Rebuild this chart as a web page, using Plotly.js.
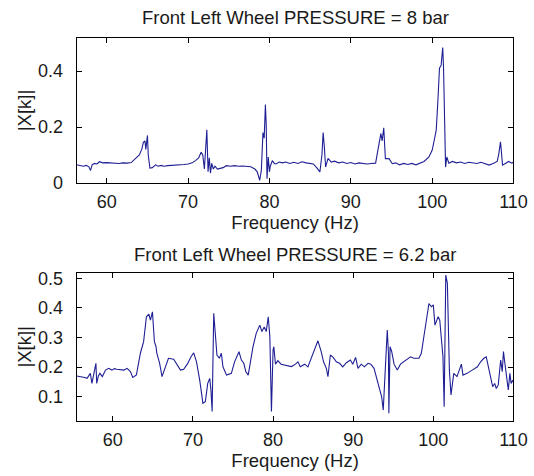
<!DOCTYPE html>
<html>
<head>
<meta charset="utf-8">
<script src="https://cdn.plot.ly/plotly-3.0.1.min.js"></script>
<style>html,body{margin:0;padding:0;background:#fff;}#chart{width:534px;height:476px;}</style>
</head>
<body>
<div id="chart"></div>
<script>
// Front Left Wheel PRESSURE = 8 bar
const freq8 = [56.3,56.7,57.1,57.5,57.8,58.0,58.2,58.5,58.8,59.1,59.5,60.0,60.5,61.0,61.5,62.0,62.5,63.0,63.5,64.0,64.3,64.5,64.7,64.8,65.0,65.1,65.3,65.6,66.0,66.3,66.7,67.0,67.5,68.0,68.5,69.0,69.5,70.0,70.5,70.9,71.3,71.6,71.8,72.0,72.15,72.3,72.45,72.6,72.75,72.9,73.1,73.3,73.6,73.9,74.3,74.7,75.2,75.7,76.2,76.7,77.2,77.7,78.2,78.5,78.8,79.0,79.2,79.35,79.5,79.6,79.7,79.85,80.0,80.1,80.35,80.6,80.8,81.2,81.6,82.0,82.5,83.0,83.5,84.0,84.5,85.0,85.4,85.8,86.2,86.45,86.6,86.75,86.9,87.2,87.6,88.0,88.5,89.0,89.5,90.0,90.5,91.0,91.5,92.0,92.5,93.05,93.4,93.7,93.85,94.05,94.25,94.7,95.1,95.5,96.0,96.5,97.0,97.5,98.0,98.5,99.0,99.6,100.0,100.3,100.5,100.7,100.9,101.1,101.3,101.4,101.5,101.65,101.8,102.05,102.5,103.0,103.5,104.0,104.5,105.0,105.5,106.0,106.5,107.0,107.5,108.0,108.2,108.4,108.5,108.65,109.0,109.4,109.8,110.0];
const mag8 = [0.065,0.062,0.06,0.063,0.058,0.045,0.065,0.07,0.068,0.076,0.072,0.073,0.072,0.072,0.07,0.072,0.071,0.073,0.085,0.1,0.12,0.145,0.15,0.12,0.17,0.1,0.053,0.055,0.065,0.06,0.063,0.06,0.062,0.063,0.062,0.064,0.066,0.068,0.072,0.08,0.09,0.11,0.1,0.05,0.12,0.19,0.04,0.09,0.035,0.07,0.05,0.06,0.05,0.052,0.055,0.062,0.06,0.062,0.06,0.061,0.06,0.058,0.05,0.04,0.01,0.045,0.18,0.16,0.28,0.21,0.015,0.093,0.04,0.06,0.08,0.07,0.068,0.075,0.072,0.075,0.07,0.074,0.07,0.076,0.072,0.07,0.068,0.055,0.04,0.1,0.18,0.128,0.057,0.088,0.075,0.078,0.072,0.075,0.07,0.073,0.068,0.072,0.07,0.068,0.07,0.071,0.129,0.177,0.15,0.197,0.087,0.087,0.069,0.072,0.065,0.07,0.066,0.07,0.065,0.072,0.077,0.093,0.117,0.159,0.189,0.29,0.41,0.42,0.484,0.41,0.254,0.057,0.093,0.071,0.077,0.072,0.075,0.07,0.074,0.072,0.07,0.074,0.068,0.064,0.07,0.077,0.105,0.147,0.117,0.064,0.07,0.077,0.071,0.075];

// Front Left Wheel PRESSURE = 6.2 bar
const freq62 = [55.5,55.9,56.2,56.5,56.8,57.0,57.2,57.4,57.7,57.9,58.0,58.2,58.4,58.7,59.1,59.5,59.9,60.2,60.5,61.0,61.4,61.8,62.2,62.5,62.95,63.45,63.85,64.2,64.5,64.7,64.95,65.2,65.4,65.5,65.85,66.15,66.4,66.95,67.6,68.0,68.45,68.85,69.3,69.8,70.1,70.45,70.85,71.25,71.55,71.85,72.1,72.25,72.4,72.6,72.8,73.0,73.3,73.55,73.75,74.2,74.8,75.2,75.75,76.05,76.35,76.6,76.9,77.15,77.5,77.9,78.35,78.6,78.9,79.15,79.4,79.6,79.7,79.8,80.0,80.1,80.3,80.6,81.0,81.65,82.3,82.8,83.1,83.4,83.95,84.35,84.8,85.2,85.6,86.0,86.3,86.65,86.85,87.15,87.5,87.9,88.3,88.7,89.15,89.65,89.95,90.3,90.6,91.0,91.4,91.85,92.2,92.6,93.0,93.3,93.55,93.75,93.95,94.15,94.25,94.4,94.45,94.6,94.8,95.1,95.5,95.9,96.3,96.75,97.15,97.55,98.2,98.5,98.8,99.15,99.45,99.75,100.0,100.2,100.4,100.6,100.8,100.95,101.2,101.35,101.5,101.55,101.75,101.85,102.0,102.2,102.35,102.55,102.95,103.25,103.5,103.7,104.2,104.85,105.5,105.9,106.3,106.6,106.85,107.15,107.4,107.65,107.85,108.1,108.25,108.4,108.6,108.75,108.9,109.1,109.35,109.55,109.7,109.9,110.0];
const mag62 = [0.17,0.168,0.168,0.165,0.162,0.17,0.179,0.145,0.19,0.213,0.145,0.17,0.179,0.168,0.19,0.196,0.19,0.195,0.193,0.19,0.19,0.196,0.185,0.165,0.174,0.247,0.286,0.37,0.379,0.359,0.387,0.286,0.269,0.247,0.213,0.168,0.19,0.23,0.227,0.21,0.19,0.193,0.21,0.237,0.248,0.218,0.156,0.078,0.083,0.145,0.162,0.123,0.05,0.382,0.303,0.241,0.23,0.247,0.201,0.173,0.179,0.218,0.252,0.224,0.213,0.185,0.173,0.21,0.269,0.314,0.342,0.32,0.336,0.32,0.37,0.303,0.19,0.05,0.258,0.269,0.21,0.222,0.21,0.207,0.202,0.21,0.218,0.201,0.21,0.201,0.233,0.267,0.289,0.253,0.218,0.196,0.168,0.241,0.233,0.218,0.213,0.201,0.215,0.224,0.21,0.233,0.196,0.21,0.201,0.213,0.21,0.196,0.156,0.134,0.1,0.055,0.156,0.258,0.325,0.247,0.044,0.269,0.253,0.21,0.19,0.21,0.218,0.224,0.235,0.23,0.23,0.247,0.303,0.359,0.415,0.404,0.41,0.342,0.359,0.37,0.359,0.314,0.235,0.066,0.438,0.511,0.483,0.359,0.19,0.106,0.145,0.179,0.168,0.19,0.21,0.173,0.179,0.19,0.201,0.218,0.23,0.235,0.201,0.168,0.134,0.145,0.128,0.14,0.196,0.224,0.185,0.253,0.218,0.179,0.123,0.179,0.145,0.156,0.15];

const xTicks = [60,70,80,90,100,110];
const yTicks8 = [0,0.2,0.4];
const yTicks62 = [0.1,0.2,0.3,0.4,0.5];
const titles = ['Front Left Wheel PRESSURE = 8 bar','Front Left Wheel PRESSURE = 6.2 bar'];
const xLabel = 'Frequency (Hz)';
const yLabel = '|X[k]|';

const FONT = 'Liberation Sans, Arial, sans-serif';
const TXT = '#1a1a1a';
const LINE = '#1f1f95';

const traces = [
  {x: freq8, y: mag8, type: 'scatter', mode: 'lines', line: {color: LINE, width: 1.1}, xaxis: 'x', yaxis: 'y', hoverinfo: 'skip'},
  {x: freq62, y: mag62, type: 'scatter', mode: 'lines', line: {color: LINE, width: 1.1}, xaxis: 'x2', yaxis: 'y2', hoverinfo: 'skip'}
];

function xa(domain, range, anchor) {
  return {domain: domain, range: range, anchor: anchor, tickvals: xTicks, ticktext: xTicks.map(String),
    ticks: 'inside', ticklen: 5, tickcolor: '#000', showline: true, linecolor: '#000', linewidth: 1, mirror: 'ticks',
    showgrid: false, zeroline: false, tickfont: {family: FONT, size: 18, color: TXT}, ticklabelstandoff: 2,
    title: {text: xLabel, font: {family: FONT, size: 18.5, color: TXT}, standoff: 4}, automargin: false};
}
function ya(domain, range, ticks, anchor) {
  return {domain: domain, range: range, anchor: anchor, tickvals: ticks, ticktext: ticks.map(String),
    ticks: 'inside', ticklen: 5, tickcolor: '#000', showline: true, linecolor: '#000', linewidth: 1, mirror: 'ticks',
    showgrid: false, zeroline: false, tickfont: {family: FONT, size: 18, color: TXT}, ticklabelstandoff: 9,
    title: {text: yLabel, font: {family: FONT, size: 18.5, color: TXT}, standoff: 1}, automargin: false};
}

const layout = {
  width: 534, height: 476,
  margin: {l: 0, r: 0, t: 0, b: 0},
  paper_bgcolor: '#fff', plot_bgcolor: '#fff',
  showlegend: false,
  xaxis: xa([0.1436, 0.9616], [56.3, 110], 'y'),
  yaxis: ya([0.6155, 0.9202], [0, 0.518], yTicks8, 'x'),
  xaxis2: xa([0.1436, 0.9616], [55.5, 110], 'y2'),
  yaxis2: ya([0.1155, 0.4271], [0.018, 0.519], yTicks62, 'x2'),
  annotations: [
    {text: titles[0], xref: 'paper', yref: 'paper', x: 0.5526, y: 1 - 17.5/476, xanchor: 'center', yanchor: 'middle', showarrow: false, font: {family: FONT, size: 18.5, color: TXT}},
    {text: titles[1], xref: 'paper', yref: 'paper', x: 0.5526, y: 1 - 254/476, xanchor: 'center', yanchor: 'middle', showarrow: false, font: {family: FONT, size: 18.5, color: TXT}}
  ]
};

Plotly.newPlot('chart', traces, layout, {staticPlot: true, displayModeBar: false});
</script>
</body>
</html>
